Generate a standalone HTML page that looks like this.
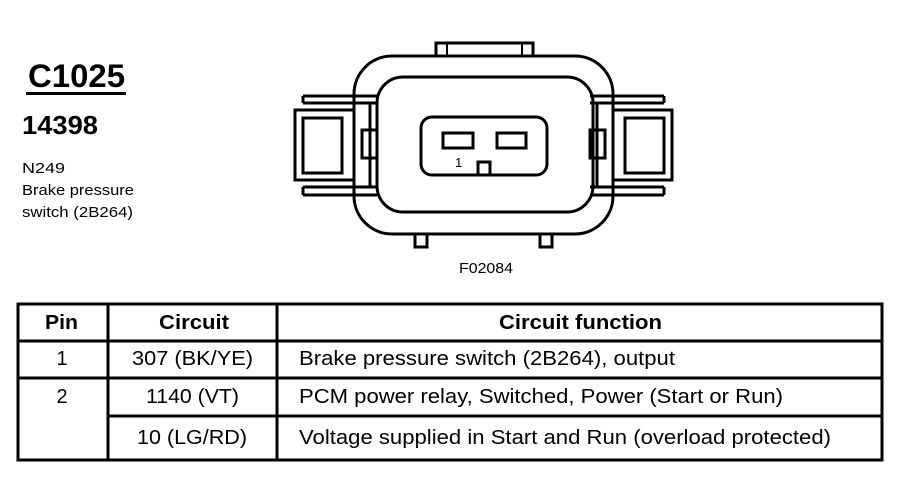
<!DOCTYPE html>
<html><head><meta charset="utf-8"><style>
html,body{margin:0;padding:0;background:#fff;}
svg{display:block;}
text{font-family:"Liberation Sans",Arial,sans-serif;fill:#000;}
</style></head><body>
<svg width="900" height="480" viewBox="0 0 900 480" xmlns="http://www.w3.org/2000/svg">
<rect width="900" height="480" fill="#fff"/>
<text x="28" y="87" font-size="32" font-weight="bold" textLength="97" lengthAdjust="spacingAndGlyphs">C1025</text>
<rect x="26" y="92" width="100" height="3" fill="#000"/>
<text x="22" y="134" font-size="26" font-weight="bold" textLength="76" lengthAdjust="spacingAndGlyphs">14398</text>
<text x="22" y="173" font-size="15" textLength="43" lengthAdjust="spacingAndGlyphs">N249</text>
<text x="22" y="195" font-size="15" textLength="112" lengthAdjust="spacingAndGlyphs">Brake pressure</text>
<text x="22" y="217" font-size="15" textLength="111" lengthAdjust="spacingAndGlyphs">switch (2B264)</text>

<g fill="none" stroke="#000" stroke-width="3">
  <path d="M436 56 V43 H533 V56"/>
  <path d="M447 56 V43 M522 56 V43" stroke-width="2"/>
  <path d="M415 234 V247 H427 V234"/>
  <path d="M540 234 V247 H552 V234"/>
  <rect x="473" y="67" width="23" height="10"/>
  <rect x="295" y="110" width="75" height="70"/>
  <rect x="303" y="118" width="39" height="55"/>
  <path d="M303 96 H377 M303 103 H377 M303 96 V103"/>
  <path d="M303 187 H377 M303 195 H377 M303 187 V195"/>
  <rect x="597" y="110" width="75" height="70"/>
  <rect x="625" y="118" width="39" height="55"/>
  <path d="M590 96 H664 M590 103 H664 M664 96 V103"/>
  <path d="M590 187 H664 M590 195 H664 M664 187 V195"/>
  <rect x="354" y="56" width="259" height="178" rx="38" fill="#fff"/>
  <rect x="377" y="77" width="216" height="135" rx="26"/>
  <rect x="421" y="117" width="126" height="58" rx="11"/>
  <rect x="443" y="133" width="30" height="15"/>
  <rect x="497" y="133" width="29" height="15"/>
  <rect x="478" y="162" width="12" height="13"/>
</g>
<g fill="none" stroke="#000" stroke-width="3">
  <path d="M354 96 H377 M354 103 H377 M354 187 H377 M354 195 H377"/>
  <path d="M590 96 H613 M590 103 H613 M590 187 H613 M590 195 H613"/>
  <rect x="362" y="130" width="15" height="28"/>
  <rect x="590" y="130" width="15" height="28"/>
  <path d="M370 103 V187 M597 103 V187"/>
</g>
<text x="455" y="167" font-size="13">1</text>
<text x="459" y="273" font-size="15" textLength="54" lengthAdjust="spacingAndGlyphs">F02084</text>

<g fill="none" stroke="#000" stroke-width="3">
  <rect x="18" y="304" width="864" height="156"/>
  <path d="M18 341 H882 M18 378 H882 M108 416 H882"/>
  <path d="M108 304 V460 M277 304 V460"/>
</g>
<g font-size="20" lengthAdjust="spacingAndGlyphs">
<text x="45" y="329" font-weight="bold" textLength="33" lengthAdjust="spacingAndGlyphs">Pin</text>
<text x="159" y="329" font-weight="bold" textLength="70" lengthAdjust="spacingAndGlyphs">Circuit</text>
<text x="499" y="329" font-weight="bold" textLength="163" lengthAdjust="spacingAndGlyphs">Circuit function</text>
<text x="62" y="365" text-anchor="middle">1</text>
<text x="132" y="365" textLength="121" lengthAdjust="spacingAndGlyphs">307 (BK/YE)</text>
<text x="299" y="365" textLength="376" lengthAdjust="spacingAndGlyphs">Brake pressure switch (2B264), output</text>
<text x="62" y="403" text-anchor="middle">2</text>
<text x="146" y="403" textLength="93" lengthAdjust="spacingAndGlyphs">1140 (VT)</text>
<text x="299" y="403" textLength="484" lengthAdjust="spacingAndGlyphs">PCM power relay, Switched, Power (Start or Run)</text>
<text x="137" y="444" textLength="110" lengthAdjust="spacingAndGlyphs">10 (LG/RD)</text>
<text x="299" y="444" textLength="532" lengthAdjust="spacingAndGlyphs">Voltage supplied in Start and Run (overload protected)</text>
</g>
</svg>
</body></html>
